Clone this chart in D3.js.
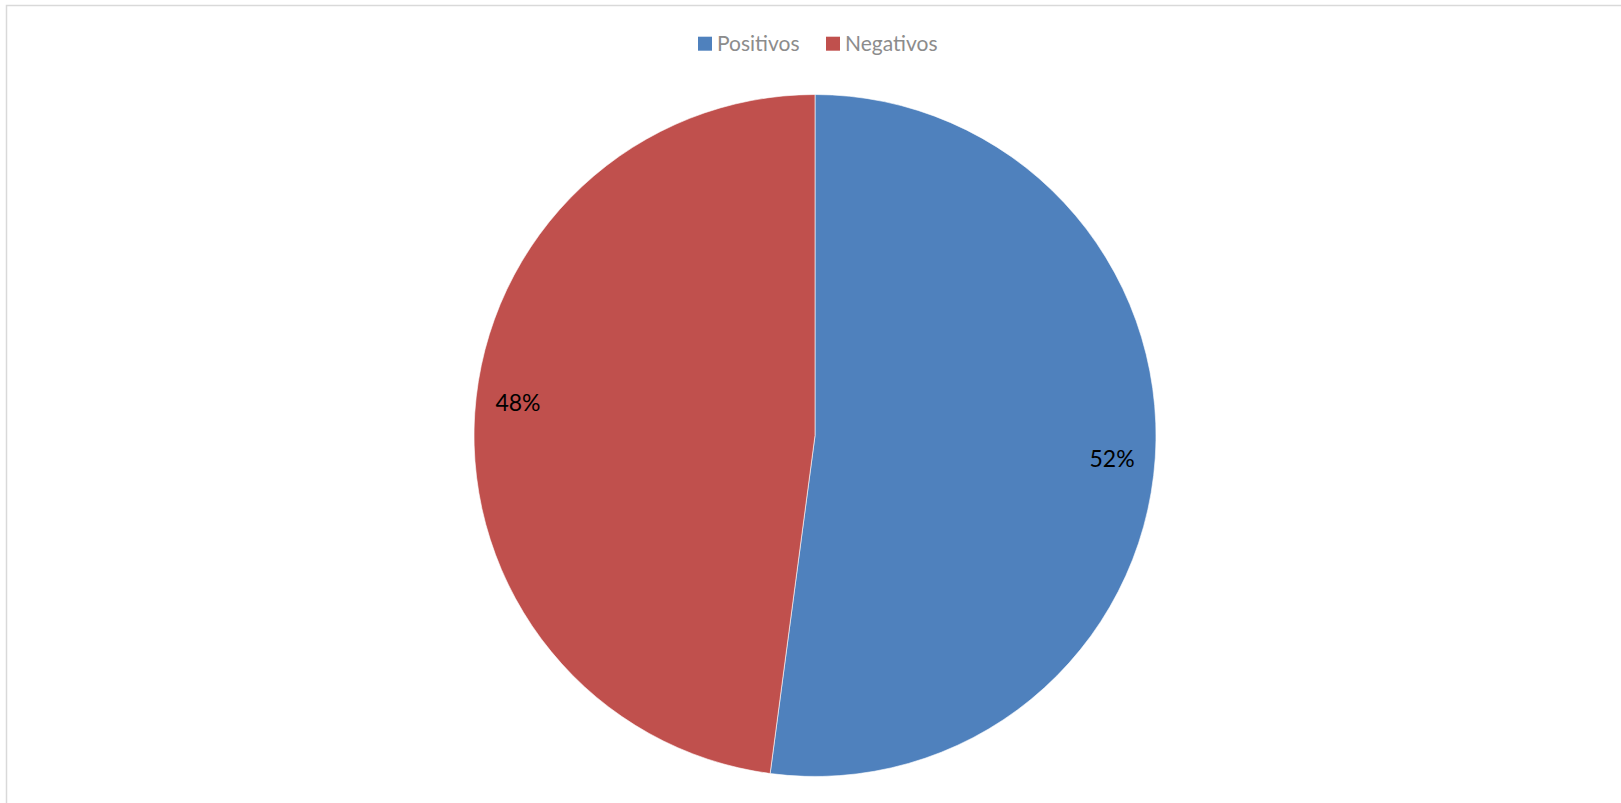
<!DOCTYPE html>
<html>
<head>
<meta charset="utf-8">
<script src="https://cdn.jsdelivr.net/npm/d3@7"></script>
<style>
  html, body { margin: 0; padding: 0; background: #fff; }
  svg { display: block; }
</style>
</head>
<body>
<div id="chart"></div>
<script>
(function () {
    const categories = ["Positivos", "Negativos"];
    const values = [52.1, 47.9];
    const colors = ["#4F81BD", "#C0504D"];

    const width = 1621;
    const height = 803;
    const cx = 815;
    const cy = 435.5;
    const radius = 341;
    const font = "Lato, 'Open Sans', sans-serif";

    const svg = d3.select("#chart")
        .append("svg")
        .attr("width", width)
        .attr("height", height);

    // chart frame (only top and left edges are inside the window)
    svg.append("rect")
        .attr("x", 6.5)
        .attr("y", 5.5)
        .attr("width", width + 20)
        .attr("height", height + 20)
        .attr("fill", "none")
        .attr("stroke", "#d9d9d9")
        .attr("stroke-width", 1.5);

    const data = categories.map((name, i) => ({ name, value: values[i], color: colors[i] }));

    const pie = d3.pie()
        .value(d => d.value)
        .sort(null);

    const arc = d3.arc()
        .innerRadius(0)
        .outerRadius(radius);

    const labelArc = d3.arc()
        .innerRadius(radius * 0.873)
        .outerRadius(radius * 0.873);

    const total = d3.sum(values);
    const arcs = pie(data);

    const g = svg.append("g")
        .attr("transform", `translate(${cx},${cy})`);

    g.selectAll("path")
        .data(arcs)
        .join("path")
        .attr("d", arc)
        .attr("fill", d => d.data.color)
        .attr("stroke", "#ffffff")
        .attr("stroke-width", 0.6);

    // excel nudges the left label up a bit
    const labelShift = [3, -14];

    g.selectAll("text")
        .data(arcs)
        .join("text")
        .attr("transform", (d, i) => {
            const [x, y] = labelArc.centroid(d);
            return `translate(${x},${y + labelShift[i]})`;
        })
        .attr("text-anchor", "middle")
        .attr("dominant-baseline", "central")
        .attr("font-family", font)
        .attr("font-size", 23)
        .attr("fill", "#000")
        .text(d => Math.round(d.data.value / total * 100) + "%");

    // legend
    const legend = svg.append("g")
        .attr("transform", "translate(698,36.7)");

    const legendX = d3.scaleOrdinal()
        .domain(categories)
        .range([0, 128]);

    const item = legend.selectAll("g")
        .data(data)
        .join("g")
        .attr("transform", d => `translate(${legendX(d.name)},0)`);

    item.append("rect")
        .attr("width", 14)
        .attr("height", 14)
        .attr("fill", d => d.color);

    item.append("text")
        .attr("x", 19)
        .attr("y", 14.5)
        .attr("font-family", font)
        .attr("font-size", 21)
        .attr("fill", "#8c8c8c")
        .text(d => d.name);
})();
</script>
</body>
</html>
